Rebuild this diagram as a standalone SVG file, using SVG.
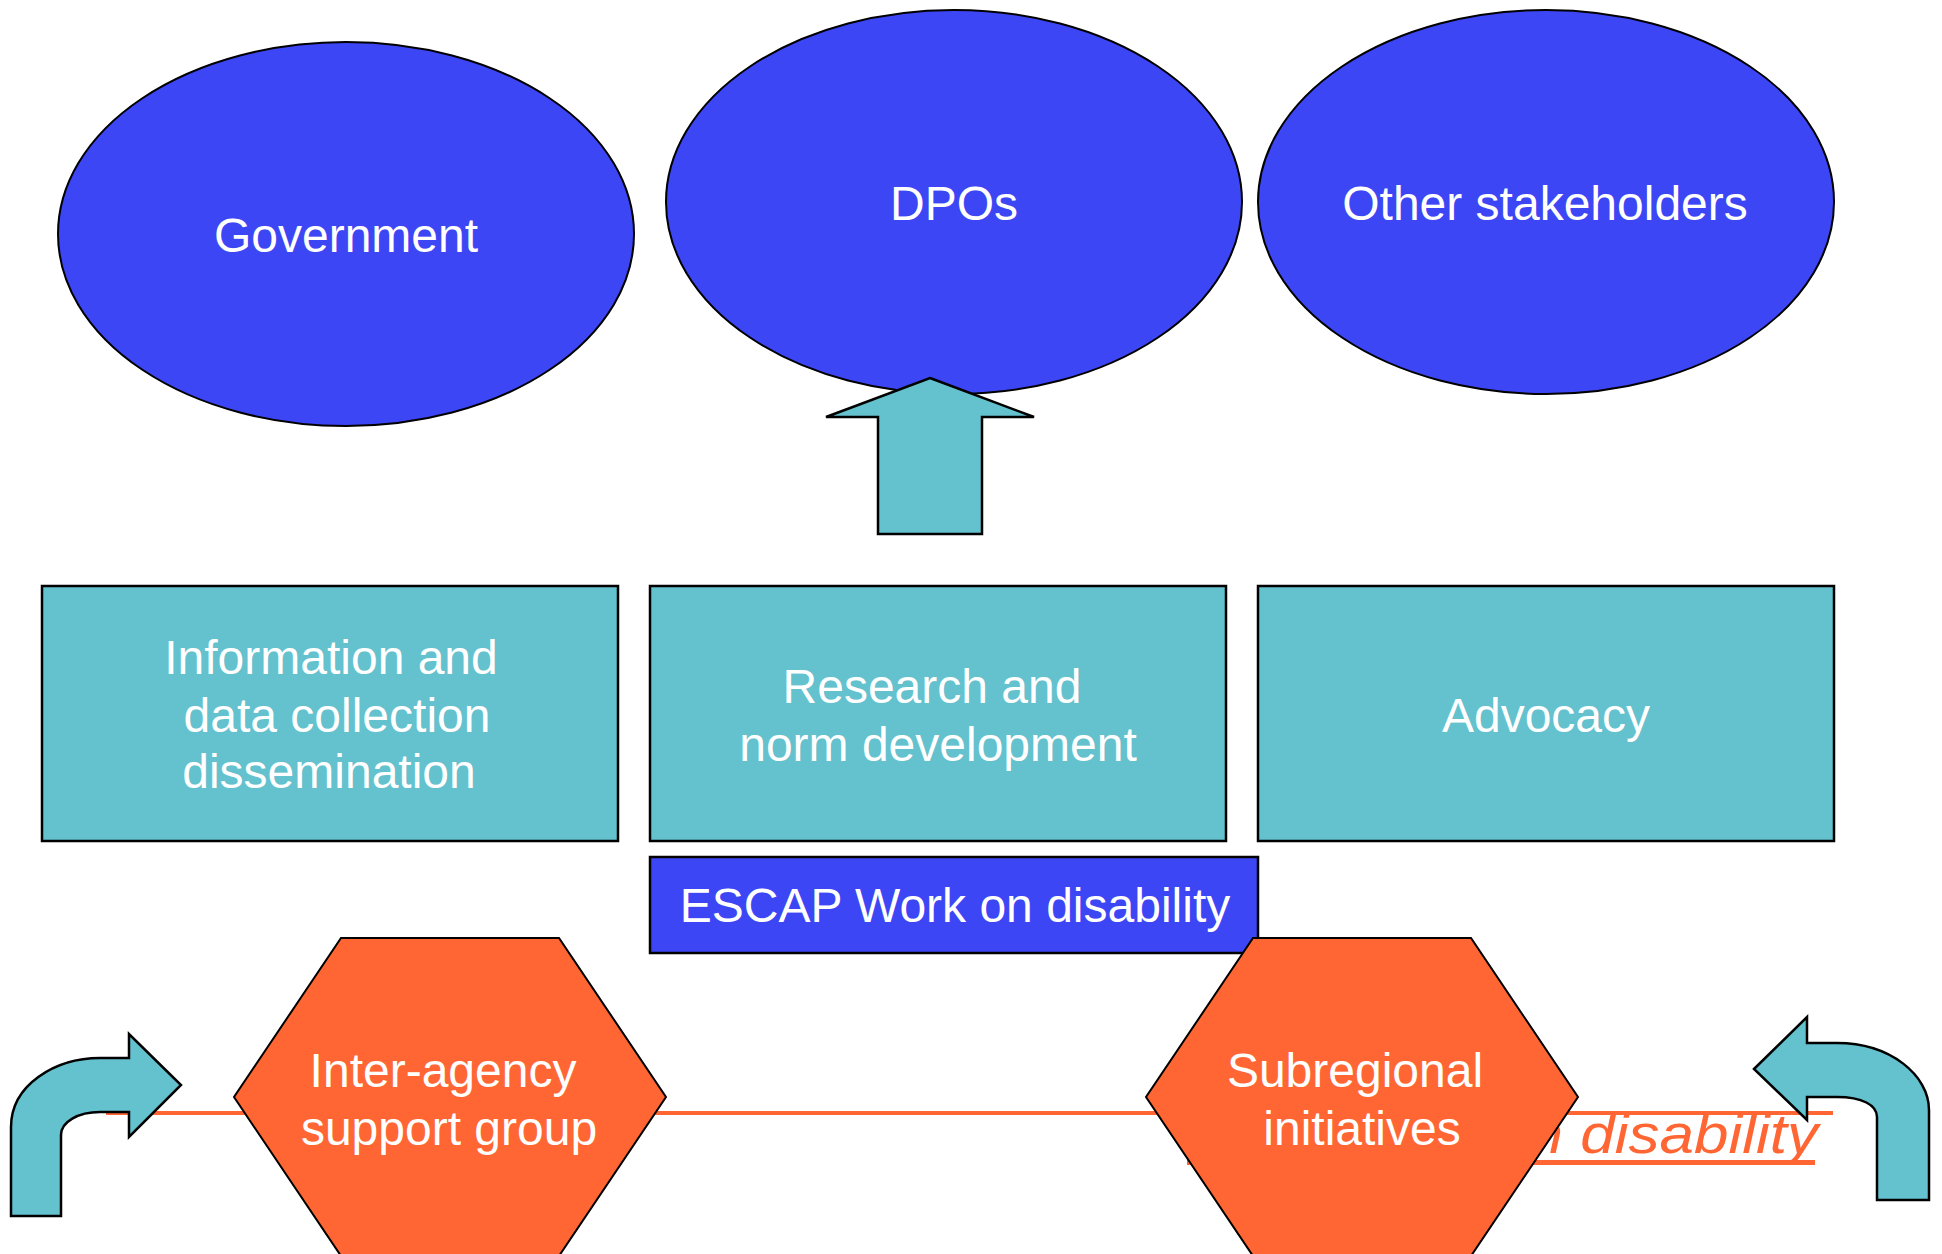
<svg xmlns="http://www.w3.org/2000/svg" width="1942" height="1254" viewBox="0 0 1942 1254">
<style>
.ell{fill:#3C46F5;stroke:#000;stroke-width:2}
.box{fill:#64C1CE;stroke:#000;stroke-width:2.5}
.blue{fill:#3C46F5;stroke:#000;stroke-width:2.5}
.hex{fill:#FF6633;stroke:#000;stroke-width:2}
.arr{fill:#64C1CE;stroke:#000;stroke-width:2.5;stroke-linejoin:miter}
.t{font-family:"Liberation Sans",Arial,sans-serif;font-size:48px;fill:#fff;text-anchor:middle}
.it{font-family:"Liberation Sans",Arial,sans-serif;font-style:italic;font-size:56px;fill:#FF6633}
</style>
<rect width="1942" height="1254" fill="#fff"/>
<g id="government"><ellipse class="ell" cx="346" cy="234" rx="288" ry="192"/><text class="t" x="346" y="252">Government</text></g>
<g id="dpos"><ellipse class="ell" cx="954" cy="202" rx="288" ry="192"/><text class="t" x="954" y="220">DPOs</text></g>
<g id="other-stakeholders"><ellipse class="ell" cx="1546" cy="202" rx="288" ry="192"/><text class="t" x="1545" y="220">Other stakeholders</text></g>
<g id="connectors">
<path class="arr" d="M930,378 L1034,417 L982,417 L982,534 L878,534 L878,417 L826,417 Z"/>
</g>
<g id="info-box"><rect class="box" x="42" y="586" width="576" height="255"/>
<text class="t" x="331" y="674">Information and</text><text class="t" x="337" y="732">data collection</text><text class="t" x="329" y="788">dissemination</text></g>
<g id="research-box"><rect class="box" x="650" y="586" width="576" height="255"/>
<text class="t" x="932" y="703">Research and</text><text class="t" x="938" y="761">norm development</text></g>
<g id="advocacy-box"><rect class="box" x="1258" y="586" width="576" height="255"/>
<text class="t" x="1546" y="732">Advocacy</text></g>
<g id="escap"><rect class="blue" x="650" y="857" width="608" height="96"/>
<text class="t" x="955" y="922">ESCAP Work on disability</text></g>
<g id="bottom-band">
<rect x="106" y="1111" width="1727" height="4" fill="#FF6633"/>
<text class="it" x="1494" y="1153" textLength="324" lengthAdjust="spacingAndGlyphs">on disability</text>
<rect x="1187" y="1160" width="628" height="5" fill="#FF6633"/>
</g>
<g id="left-arrow"><path class="arr" d="M11,1216 L11,1127 C11,1085 55,1058 100,1058 L129,1058 L129,1034 L181,1085 L129,1137 L129,1112 L100,1112 C78,1112 61,1122 61,1135 L61,1216 Z"/></g>
<g id="right-arrow"><path class="arr" d="M1754,1069 L1807,1017 L1807,1043 L1837,1043 C1890,1043 1929,1075 1929,1110 L1929,1200 L1877,1200 L1877,1117 C1877,1105 1862,1097 1837,1097 L1807,1097 L1807,1120 Z"/></g>
<g id="inter-agency"><polygon class="hex" points="341,938 559,938 666,1097 559,1256 341,1256 234,1097"/>
<text class="t" x="443" y="1087">Inter-agency</text><text class="t" x="449" y="1145">support group</text></g>
<g id="subregional"><polygon class="hex" points="1253,938 1471,938 1578,1097 1471,1256 1253,1256 1146,1097"/>
<text class="t" x="1355" y="1087">Subregional</text><text class="t" x="1362" y="1145">initiatives</text></g>
</svg>
